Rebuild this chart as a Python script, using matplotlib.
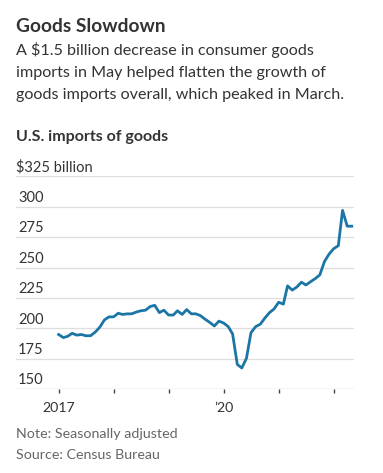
import matplotlib
matplotlib.use("Agg")
import matplotlib.pyplot as plt
import matplotlib.transforms as mtransforms
import pandas as pd

# monthly U.S. imports of goods, $ billion, Jan 2017 - May 2022
months = pd.date_range("2017-01-01", periods=65, freq="MS")
imports = [
    195.0, 192.5, 193.5, 196.0, 194.5, 195.0, 194.0, 194.0, 197.0, 201.0, 207.0, 209.5,
    209.5, 212.5, 211.5, 212.0, 212.0, 213.5, 214.5, 215.0, 218.0, 219.0, 213.0, 215.0,
    211.0, 211.0, 214.5, 211.5, 215.5, 212.0, 212.0, 210.5, 207.5, 205.0, 202.0, 206.0,
    204.5, 201.5, 195.5, 170.5, 167.5, 175.5, 196.5, 201.5, 203.5, 208.5, 213.0, 216.0,
    221.5, 220.0, 235.0, 231.5, 234.0, 238.0, 235.7, 238.4, 241.0, 244.0, 255.0, 261.0,
    265.5, 268.0, 297.0, 284.0, 284.0,
]
yticks = [150, 175, 200, 225, 250, 275, 300, 325]
year_ticks = pd.date_range("2017-01-01", periods=6, freq="YS")
year_labels = ["2017", "", "", "\u201920", "", ""]

W, H = 383, 473
fig = plt.figure(figsize=(W / 100, H / 100), dpi=100)
plt.rcParams["font.family"] = ["Lato", "DejaVu Sans"]

def px(x, y):
    return x / W, 1 - y / H

dark = "#333333"
grey = "#666666"

fig.text(*px(16, 31.5), "Goods Slowdown", fontsize=13.8, fontweight="bold",
         color=dark, va="baseline")
sub = ["A $1.5 billion decrease in consumer goods",
       "imports in May helped flatten the growth of",
       "goods imports overall, which peaked in March."]
for i, line in enumerate(sub):
    fig.text(*px(16, 54.5 + 22.4 * i), line, fontsize=11.65, color=dark, va="baseline")
fig.text(*px(16, 140.5), "U.S. imports of goods", fontsize=11.5, fontweight="bold",
         color=dark, va="baseline")

ax_l, ax_r = 16, 354
ax_t, ax_b = 176.3, 389.3
ax = fig.add_axes([ax_l / W, 1 - ax_b / H, (ax_r - ax_l) / W, (ax_b - ax_t) / H])

ax.plot(months, imports, color="#1c76a5", lw=2.0, solid_joinstyle="round", zorder=3)

ax.set_ylim(150, 325)
ax.set_xlim(pd.Timestamp("2016-03-24"), pd.Timestamp("2022-05-16"))

for v in yticks[1:]:
    ax.axhline(v, color="#dedede", lw=0.9, zorder=1)
ax.axhline(150, color="#aaaaaa", lw=0.9, zorder=2)

for s in ax.spines.values():
    s.set_visible(False)
ax.set_yticks([])
ax.set_xticks(year_ticks)
ax.set_xticklabels(year_labels, fontsize=10.2, color=dark)
ax.tick_params(axis="x", length=3, width=1, color="#444444", pad=6, direction="out")

lab_tr = mtransforms.offset_copy(ax.get_yaxis_transform(), fig=fig, x=0, y=3.5, units="points")
xr = (43.5 - ax_l) / (ax_r - ax_l)
for v in yticks:
    if v == 325:
        continue
    ax.text(xr, v, str(v), transform=lab_tr, ha="right", va="baseline",
            fontsize=10.5, color=dark)
ax.text(0, 325, "$325 billion", transform=lab_tr, ha="left", va="baseline",
        fontsize=10.5, color=dark)

fig.text(*px(16, 438.5), "Note: Seasonally adjusted", fontsize=10.3, color=grey, va="baseline")
fig.text(*px(16, 458.5), "Source: Census Bureau", fontsize=10.3, color=grey, va="baseline")

fig.savefig("out.png", dpi=100)
